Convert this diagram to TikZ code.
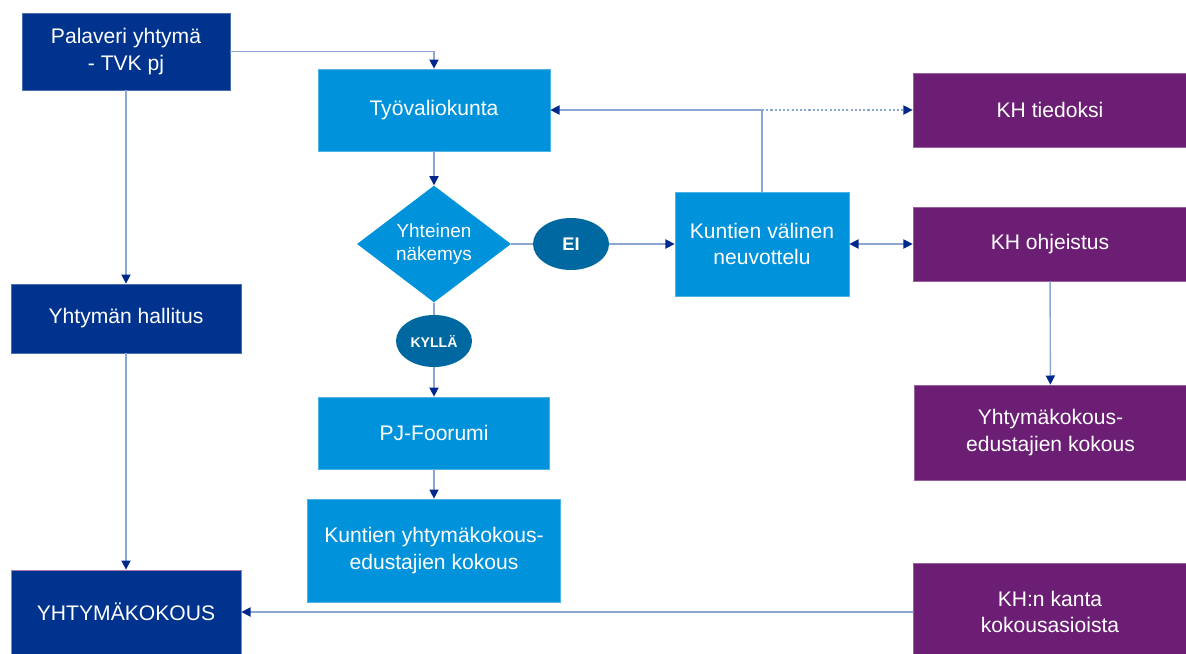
\documentclass[tikz,border=0pt]{standalone}
\usepackage{fontspec}
\setmainfont{Liberation Sans}
\usetikzlibrary{shapes.geometric,arrows.meta}
\definecolor{tummasin}{RGB}{0,51,141}
\definecolor{vaaleasin}{RGB}{0,146,218}
\definecolor{violetti}{RGB}{108,30,116}
\definecolor{soikio}{RGB}{0,104,160}
\definecolor{viiva}{RGB}{140,166,212}
\definecolor{karki}{RGB}{0,40,140}
\begin{document}
\begin{tikzpicture}[x=0.025cm,y=-0.025cm,
    laatikko/.style={rectangle, text=white, align=center, inner sep=2pt,
        font=\fontsize{15}{18.6}\selectfont},
    tumma/.style={laatikko, fill=tummasin, draw=tummasin!70!white, line width=0.5pt},
    vaalea/.style={laatikko, fill=vaaleasin, draw=vaaleasin!70!white, line width=0.5pt},
    lila/.style={laatikko, fill=violetti, draw=violetti!70!white, line width=0.5pt},
    vastaus/.style={ellipse, fill=soikio, text=white, inner sep=0pt,
        minimum width=1.9cm, minimum height=1.3cm, font=\bfseries},
    nuoli/.style={draw=viiva, line width=1pt, -{Triangle[length=6.5pt,width=6.5pt,color=karki]}},
    molemmat/.style={draw=viiva, line width=1pt,
        {Triangle[length=6.5pt,width=6.5pt,color=karki]}-{Triangle[length=6.5pt,width=6.5pt,color=karki]}},
    viiva/.style={draw=viiva, line width=1pt}]
    \useasboundingbox (0,0) rectangle (1186,653);
    % vasen sarake
    \node[tumma, minimum width=5.2cm, minimum height=1.925cm] (palaveri) at (126,51.5) {Palaveri yhtymä\\- TVK pj};
    \node[tumma, minimum width=5.75cm, minimum height=1.725cm] (hallitus) at (126,318.5) {Yhtymän hallitus};
    \node[tumma, draw=violetti!60!white, minimum width=5.75cm, minimum height=2.1cm] (kokous) at (126,612) {YHTYMÄKOKOUS};
    % keskisarake
    \node[vaalea, minimum width=5.8cm, minimum height=2.05cm] (tvk) at (434,110) {Työvaliokunta};
    \node[diamond, fill=vaaleasin, text=white, align=center, inner sep=0pt,
        minimum width=3.85cm, minimum height=2.825cm,
        font=\fontsize{13.5}{16.5}\selectfont] (nakemys) at (434,244) {Yhteinen\\näkemys};
    \node[vastaus, font=\bfseries\fontsize{13}{15}\selectfont] (ei) at (571,244) {EI};
    \node[vastaus, font=\bfseries\fontsize{10}{12}\selectfont] (kylla) at (434,341) {KYLLÄ};
    \node[vaalea, minimum width=5.775cm, minimum height=1.8cm] (foorumi) at (434,433) {PJ-Foorumi};
    \node[vaalea, minimum width=6.325cm, minimum height=2.575cm] (edustajat) at (434,550.5) {Kuntien yhtymäkokous-\\edustajien kokous};
    \node[vaalea, minimum width=4.35cm, minimum height=2.6cm] (neuvottelu) at (762,244) {Kuntien välinen\\neuvottelu};
    % oikea sarake
    \node[lila, minimum width=6.85cm, minimum height=1.85cm] (tiedoksi) at (1050,110) {KH tiedoksi};
    \node[lila, minimum width=6.85cm, minimum height=1.85cm] (ohjeistus) at (1050,244) {KH ohjeistus};
    \node[lila, minimum width=6.8cm, minimum height=2.375cm] (khkokous) at (1050.5,432.5) {Yhtymäkokous-\\edustajien kokous};
    \node[lila, minimum width=6.85cm, minimum height=2.45cm] (kanta) at (1050,612) {KH:n kanta\\kokousasioista};
    % yhteydet
    \draw[nuoli] (palaveri.east) -| (tvk.north);
    \draw[nuoli] (palaveri.south) -- (hallitus.north);
    \draw[nuoli] (hallitus) -- (kokous);
    \draw[nuoli] (tvk) -- (nakemys);
    \draw[viiva] (nakemys.east) -- (ei);
    \draw[nuoli] (ei) -- (neuvottelu);
    \draw[viiva] (nakemys.south) -- (kylla);
    \draw[nuoli] (kylla) -- (foorumi);
    \draw[nuoli] (foorumi) -- (edustajat);
    \coordinate (kulma) at (neuvottelu.north |- tvk.east);
    \draw[nuoli] (neuvottelu.north) |- (tvk.east);
    \draw[nuoli, dash pattern=on 1.5pt off 1.5pt] (kulma) -- (tiedoksi.west);
    \draw[molemmat] (neuvottelu) -- (ohjeistus);
    \draw[nuoli] (ohjeistus) -- (khkokous);
    \draw[nuoli] (kanta) -- (kokous);
\end{tikzpicture}
\end{document}
